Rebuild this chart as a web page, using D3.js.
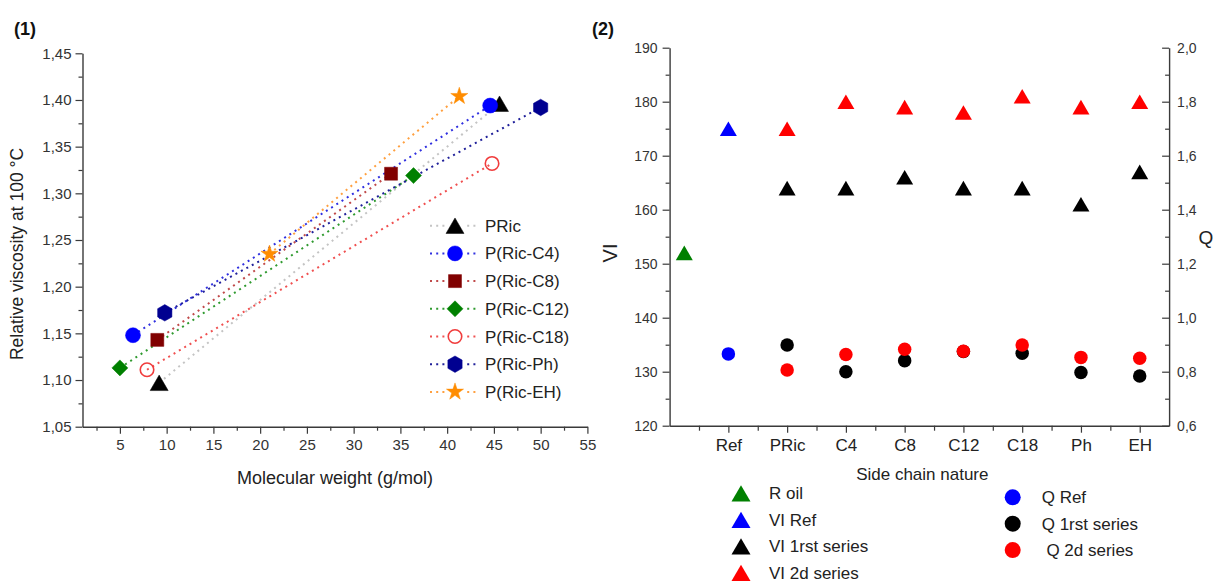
<!DOCTYPE html>
<html><head><meta charset="utf-8">
<script src="https://cdn.jsdelivr.net/npm/d3@7"></script>
<style>
html,body{margin:0;padding:0;background:#fff;}
svg{display:block;font-family:"Liberation Sans",Arial,sans-serif;}
</style></head>
<body>
<svg id="chart" width="1215" height="583"></svg>
<script>
// ---------- Panel (1) data ----------
const seriesNames = ["PRic","P(Ric-C4)","P(Ric-C8)","P(Ric-C12)","P(Ric-C18)","P(Ric-Ph)","P(Ric-EH)"];
const mwLow   = [9.2, 6.4, 9.0, 5.0, 7.9, 9.8, 21.0];
const mwHigh  = [45.6, 44.6, 34.0, 36.4, 44.8, 50.0, 41.3];
const viscLow = [1.097, 1.148, 1.143, 1.113, 1.111, 1.172, 1.235];
const viscHigh= [1.396, 1.394, 1.321, 1.319, 1.332, 1.392, 1.404];
const seriesShapes = ["triangle","circle","square","diamond","opencircle","hexagon","star"];
const seriesFill   = ["#000000","#0000ff","#800000","#008000","none","#000090","#ff8c00"];
const seriesStroke = ["#000000","#0000ff","#800000","#008000","#f03c3c","#000090","#ff8c00"];
const seriesLine   = ["#c4c4c4","#3030e0","#c04a4a","#2f9a2f","#f05050","#20209a","#ffa040"];
const mwTicks   = [5,10,15,20,25,30,35,40,45,50,55];
const mwMinor   = [2.5,7.5,12.5,17.5,22.5,27.5,32.5,37.5,42.5,47.5,52.5];
const viscTicks = [1.05,1.10,1.15,1.20,1.25,1.30,1.35,1.40,1.45];
const viscMinor = [1.075,1.125,1.175,1.225,1.275,1.325,1.375,1.425];

// ---------- Panel (2) data ----------
const categories = ["Ref","PRic","C4","C8","C12","C18","Ph","EH"];
const rOilPos = 0.25;
const rOilVI = 152;
const viRef = 175;
const viFirst  = [164, 164, 166, 164, 164, 161, 167];   // PRic..EH
const viSecond = [175, 180, 179, 178, 181, 179, 180];   // PRic..EH
const qRef = 0.866;
const qFirst  = [0.899, 0.800, 0.841, 0.875, 0.868, 0.797, 0.784];
const qSecond = [0.806, 0.864, 0.883, 0.876, 0.899, 0.853, 0.850];
const viTicks = [120,130,140,150,160,170,180,190];
const viMinor = [125,135,145,155,165,175,185];
const qTicks = [0.6,0.8,1.0,1.2,1.4,1.6,1.8,2.0];
const qMinor = [0.7,0.9,1.1,1.3,1.5,1.7,1.9];
const catMinor = [0.5,1.5,2.5,3.5,4.5,5.5,6.5,7.5];
const legendLeftCol  = ["R oil","VI Ref","VI 1rst series","VI 2d series"];
const legendLeftCol2 = ["Q Ref","Q 1rst series"," Q 2d series"];

// ---------- helpers ----------
const comma = d => d3.format(".2f")(d).replace(".", ",");
const comma1 = d => d3.format(".1f")(d).replace(".", ",");
function shape(type, s){
  if(type==="triangle"){ const w=s, h=s*0.86; return `M0,${-h/2}L${w/2},${h/2}L${-w/2},${h/2}Z`; }
  if(type==="circle"||type==="opencircle"){ return d3.symbol(d3.symbolCircle, Math.PI*(s/2)*(s/2))(); }
  if(type==="square"){ const a=s/2; return `M${-a},${-a}h${s}v${s}h${-s}Z`; }
  if(type==="diamond"){ const a=s/2; return `M0,${-a}L${a},0L0,${a}L${-a},0Z`; }
  if(type==="hexagon"){ const r=s/2; let p=""; for(let k=0;k<6;k++){const ang=Math.PI/2+k*Math.PI/3; p+=(k?"L":"M")+(r*Math.cos(ang)).toFixed(2)+","+(r*Math.sin(ang)).toFixed(2);} return p+"Z"; }
  if(type==="star"){ const R=s/2; return d3.symbol(d3.symbolStar, R*R/0.8908130915)(); }
}
const shapeSize = {triangle:18, circle:15, square:13, diamond:16, opencircle:13.5, hexagon:16.5, star:18};

const svg = d3.select("#chart");
const axisColor = "#3a3a3a";
function styleAxis(g){
  g.select(".domain").attr("stroke", axisColor).attr("stroke-width", 1.4);
  g.selectAll(".tick line").attr("stroke", axisColor).attr("stroke-width", 1.2);
  g.selectAll(".tick text").attr("fill", "#333");
}

// ================= Panel (1) =================
const x1 = d3.scaleLinear().domain([1,55]).range([82.5,587.4]);
const y1 = d3.scaleLinear().domain([1.05,1.45]).range([426.7,53.3]);

svg.append("text").attr("x",14).attr("y",35).attr("font-weight","bold").attr("font-size",18).attr("fill","#111").text("(1)");

// minor ticks
svg.append("g").attr("transform",`translate(0,${y1(1.05)})`)
  .call(d3.axisBottom(x1).tickValues(mwMinor).tickSize(4).tickSizeOuter(0).tickFormat(""))
  .call(g=>{styleAxis(g); g.select(".domain").remove();});
svg.append("g").attr("transform",`translate(${x1(1)},0)`)
  .call(d3.axisLeft(y1).tickValues(viscMinor).tickSize(4).tickSizeOuter(0).tickFormat(""))
  .call(g=>{styleAxis(g); g.select(".domain").remove();});
// major axes
svg.append("g").attr("transform",`translate(0,${y1(1.05)})`)
  .call(d3.axisBottom(x1).tickValues(mwTicks).tickSize(7).tickSizeOuter(0).tickPadding(6))
  .call(styleAxis)
  .call(g=>g.selectAll(".tick text").attr("font-size",15).attr("font-family","Liberation Sans, Arial"));
svg.append("g").attr("transform",`translate(${x1(1)},0)`)
  .call(d3.axisLeft(y1).tickValues(viscTicks).tickSize(7).tickSizeOuter(0).tickPadding(4).tickFormat(comma))
  .call(styleAxis)
  .call(g=>g.selectAll(".tick text").attr("font-size",15).attr("font-family","Liberation Sans, Arial"));

svg.append("text").attr("x",(x1(1)+x1(55))/2).attr("y",484).attr("text-anchor","middle")
  .attr("font-size",18).attr("fill","#222").text("Molecular weight (g/mol)");
svg.append("text").attr("transform",`translate(23,${(y1(1.05)+y1(1.45))/2+14}) rotate(-90)`).attr("text-anchor","middle")
  .attr("font-size",17.5).attr("fill","#222").text("Relative viscosity at 100 °C");

// lines
const lineG = svg.append("g");
seriesNames.forEach((n,i)=>{
  lineG.append("line")
    .attr("x1",x1(mwLow[i])).attr("y1",y1(viscLow[i]))
    .attr("x2",x1(mwHigh[i])).attr("y2",y1(viscHigh[i]))
    .attr("stroke",seriesLine[i]).attr("stroke-width",2).attr("stroke-dasharray","2,4.2");
});
// markers
const markG = svg.append("g");
seriesNames.forEach((n,i)=>{
  [[mwLow[i],viscLow[i]],[mwHigh[i],viscHigh[i]]].forEach(p=>{
    const t = seriesShapes[i];
    markG.append("path").attr("d",shape(t,shapeSize[t]))
      .attr("transform",`translate(${x1(p[0])},${y1(p[1])})`)
      .attr("fill",seriesFill[i]).attr("stroke",seriesStroke[i])
      .attr("stroke-width", t==="opencircle"?1.6:0.5);
  });
});
// legend (1)
const leg1 = svg.append("g");
seriesNames.forEach((n,i)=>{
  const yy = 225.7 + i*27.7;
  leg1.append("line").attr("x1",430).attr("x2",478).attr("y1",yy).attr("y2",yy)
    .attr("stroke",seriesLine[i]).attr("stroke-width",2).attr("stroke-dasharray","2,4.2");
  const t = seriesShapes[i];
  leg1.append("rect").attr("x",445).attr("y",yy-10).attr("width",20).attr("height",20).attr("fill","#fff");
  leg1.append("path").attr("d",shape(t,shapeSize[t])).attr("transform",`translate(455,${yy})`)
    .attr("fill",seriesFill[i]).attr("stroke",seriesStroke[i]).attr("stroke-width", t==="opencircle"?1.6:0.5);
  leg1.append("text").attr("x",485).attr("y",yy+6).attr("font-size",17).attr("fill","#222").text(n);
});

// ================= Panel (2) =================
const x2 = d3.scaleLinear().domain([0,8.5]).range([669.6,1169.1]);
const yVI = d3.scaleLinear().domain([120,190]).range([425.7,47.7]);
const yQ  = d3.scaleLinear().domain([0.6,2.0]).range([425.7,47.7]);

svg.append("text").attr("x",592).attr("y",35).attr("font-weight","bold").attr("font-size",18).attr("fill","#111").text("(2)");

// minor ticks
svg.append("g").attr("transform",`translate(0,${yVI(120)})`)
  .call(d3.axisBottom(x2).tickValues(catMinor).tickSize(5).tickSizeOuter(0).tickFormat(""))
  .call(g=>{styleAxis(g); g.select(".domain").remove();});
svg.append("g").attr("transform",`translate(${x2(0)},0)`)
  .call(d3.axisLeft(yVI).tickValues(viMinor).tickSize(4).tickSizeOuter(0).tickFormat(""))
  .call(g=>{styleAxis(g); g.select(".domain").remove();});
svg.append("g").attr("transform",`translate(${x2(8.5)},0)`)
  .call(d3.axisRight(yQ).tickValues(qMinor).tickSize(-4).tickSizeOuter(0).tickFormat(""))
  .call(g=>{styleAxis(g); g.select(".domain").remove();});
// major axes
svg.append("g").attr("transform",`translate(0,${yVI(120)})`)
  .call(d3.axisBottom(x2).tickValues(d3.range(1,categories.length+1)).tickSize(7).tickSizeOuter(0).tickPadding(6)
    .tickFormat(d=>categories[d-1]))
  .call(styleAxis)
  .call(g=>g.selectAll(".tick text").attr("font-size",17).attr("fill","#222"));
svg.append("g").attr("transform",`translate(${x2(0)},0)`)
  .call(d3.axisLeft(yVI).tickValues(viTicks).tickSize(7).tickSizeOuter(0).tickPadding(5))
  .call(styleAxis)
  .call(g=>g.selectAll(".tick text").attr("font-size",14));
svg.append("g").attr("transform",`translate(${x2(8.5)},0)`)
  .call(d3.axisRight(yQ).tickValues(qTicks).tickSize(-7).tickSizeOuter(0).tickPadding(8).tickFormat(comma1))
  .call(styleAxis)
  .call(g=>g.selectAll(".tick text").attr("font-size",14));

svg.append("text").attr("x",(x2(0)+x2(8.5))/2+3).attr("y",480).attr("text-anchor","middle")
  .attr("font-size",17).attr("fill","#222").text("Side chain nature");
svg.append("text").attr("transform",`translate(617,253) rotate(-90)`).attr("text-anchor","middle")
  .attr("font-size",20).attr("fill","#222").text("VI");
svg.append("text").attr("x",1206).attr("y",244).attr("text-anchor","middle")
  .attr("font-size",19).attr("fill","#222").text("Q");

const g2 = svg.append("g");
const tri = shape("triangle",17);
const circ = shape("circle",13.5);
// VI points
g2.append("path").attr("d",tri).attr("transform",`translate(${x2(rOilPos)},${yVI(rOilVI)})`).attr("fill","#008000");
g2.append("path").attr("d",tri).attr("transform",`translate(${x2(1)},${yVI(viRef)})`).attr("fill","#0000ff");
viFirst.forEach((v,i)=>g2.append("path").attr("d",tri).attr("transform",`translate(${x2(i+2)},${yVI(v)})`).attr("fill","#000"));
viSecond.forEach((v,i)=>g2.append("path").attr("d",tri).attr("transform",`translate(${x2(i+2)},${yVI(v)})`).attr("fill","#ff0000"));
// Q points
g2.append("path").attr("d",circ).attr("transform",`translate(${x2(1)},${yQ(qRef)})`).attr("fill","#0000ff");
qFirst.forEach((v,i)=>g2.append("path").attr("d",circ).attr("transform",`translate(${x2(i+2)},${yQ(v)})`).attr("fill","#000"));
qSecond.forEach((v,i)=>g2.append("path").attr("d",circ).attr("transform",`translate(${x2(i+2)},${yQ(v)})`).attr("fill","#ff0000"));

// legend (2)
const legColors1 = ["#008000","#0000ff","#000000","#ff0000"];
legendLeftCol.forEach((t,i)=>{
  const yy = 493.3 + i*26.5;
  g2.append("path").attr("d",shape("triangle",19)).attr("transform",`translate(741,${yy})`).attr("fill",legColors1[i]);
  g2.append("text").attr("x",769).attr("y",yy+6).attr("font-size",17).attr("fill","#222").text(t);
});
const legColors2 = ["#0000ff","#000000","#ff0000"];
legendLeftCol2.forEach((t,i)=>{
  const yy = 497.3 + i*26.4;
  g2.append("path").attr("d",shape("circle",16)).attr("transform",`translate(1012.7,${yy})`).attr("fill",legColors2[i]);
  g2.append("text").attr("x",1041.7).attr("y",yy+6).attr("font-size",17).attr("fill","#222")
    .attr("xml:space","preserve").style("white-space","pre").text(t);
});
</script>
</body></html>
